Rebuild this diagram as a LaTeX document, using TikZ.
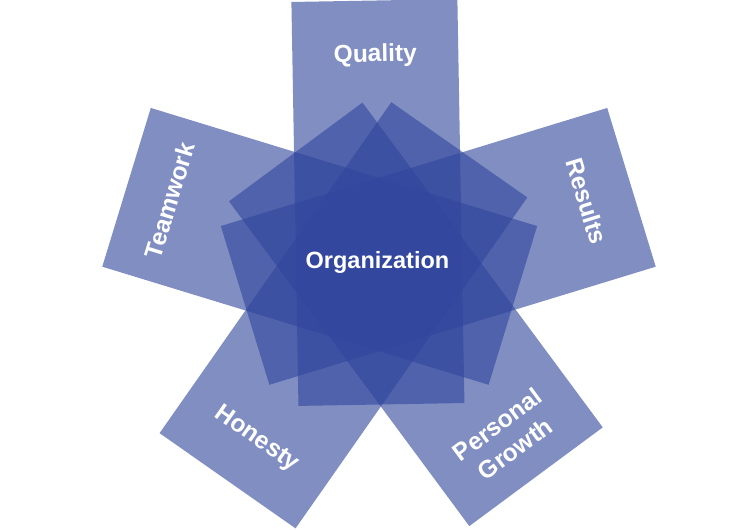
\documentclass[tikz,border=0pt]{standalone}
\usepackage{fontspec}
\setmainfont{Liberation Sans}
\usetikzlibrary{positioning}
\definecolor{petalblue}{RGB}{48,70,156}

\begin{document}
\begin{tikzpicture}[x=1pt,y=1pt,
petal/.style={fill=petalblue,fill opacity=0.61,minimum width=166pt,minimum height=404pt,inner sep=0pt},
tag/.style={text=white,font=\fontsize{24.5}{30}\selectfont\bfseries,align=center}]
\useasboundingbox (-379,-265.5) rectangle (376,264.5);
\node[petal,rotate=1] (quality) at (91:62) {};
\node[petal,rotate=-73] (results) at (17:62) {};
\node[petal,rotate=73] (teamwork) at (163:62) {};
\node[petal,rotate=145] (honesty) at (235:62) {};
\node[petal,rotate=216.5] (growth) at (306.5:62) {};
\node[tag,rotate=1] (qualitytag) at (91:209) {Quality};
\node[tag,rotate=-73] (resultstag) at (17:217) {Results};
\node[tag,rotate=73] (teamworktag) at (163:219) {Teamwork};
\node[tag,rotate=-35] (honestytag) at (235:213) {Honesty};
\node[tag,rotate=36.5] (growthtag) at (306.5:214) {Personal\\Growth};
\node[tag,font=\fontsize{23.5}{28}\selectfont\bfseries] (organization) at (-1.5,2) {Organization};
\end{tikzpicture}
\end{document}
